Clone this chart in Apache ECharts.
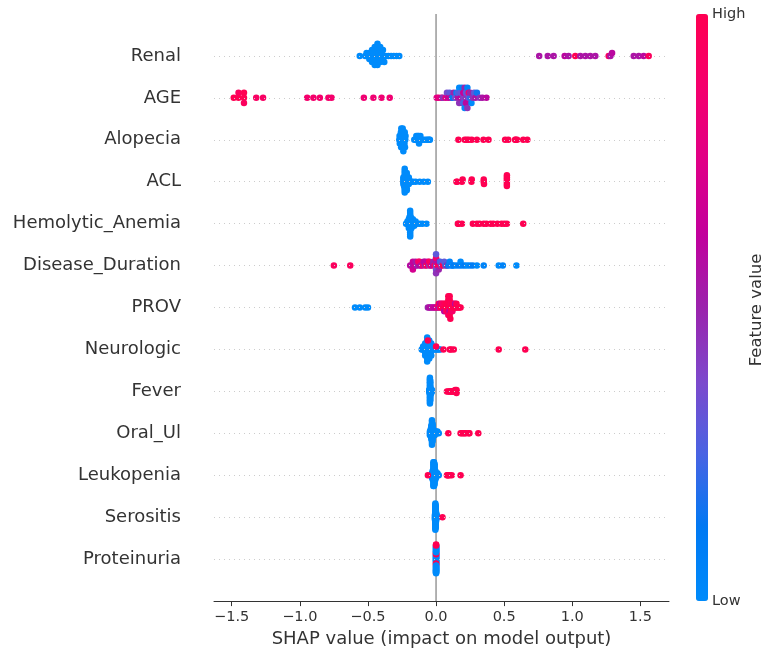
<!DOCTYPE html>
<html>
<head>
<meta charset="utf-8">
<script src="https://cdn.jsdelivr.net/npm/echarts@6/dist/echarts.min.js"></script>
<style>html,body{margin:0;padding:0;background:#fff}#c{width:763px;height:653px}</style>
</head>
<body>
<div id="c"></div>
<script>
// Feature names, top to bottom
const features = ['Renal','AGE','Alopecia','ACL','Hemolytic_Anemia','Disease_Duration','PROV','Neurologic','Fever','Oral_Ul','Leukopenia','Serositis','Proteinuria'];
const xTicks = [-1.5, -1, -0.5, 0, 0.5, 1, 1.5];

// Each point: [SHAP value, normalized feature value (0 = low, 1 = high)]
const renal = [
 [-0.56,0],[-0.52,0],[-0.51,0],[-0.50,0],[-0.49,0],[-0.49,0],[-0.48,0],[-0.48,0],[-0.47,0],[-0.47,0],[-0.47,0],[-0.46,0],[-0.46,0],[-0.46,0],
 [-0.45,0],[-0.45,0],[-0.45,0],[-0.45,0],[-0.44,0],[-0.44,0],[-0.44,0],[-0.44,0],[-0.43,0],[-0.43,0],[-0.43,0],[-0.43,0],[-0.42,0],[-0.42,0],[-0.42,0],
 [-0.41,0],[-0.41,0],[-0.41,0],[-0.40,0],[-0.40,0],[-0.39,0],[-0.39,0],[-0.38,0],[-0.37,0],[-0.35,0],[-0.33,0],[-0.31,0],[-0.29,0],[-0.27,0],
 [0.757,0.55],[0.82,0.55],[0.863,0.55],[0.944,0.6],[0.973,0.55],[1.022,1],[1.059,0.55],[1.096,0.55],[1.132,0.55],[1.169,0.55],[1.267,0.95],[1.28,0.55],[1.292,0.6],[1.451,0.55],[1.488,0.55],[1.524,0.6],[1.561,0.95]
];
const age = [
 [-1.485,1],[-1.45,1],[-1.45,0.95],[-1.41,1],[-1.41,1],[-1.41,0.95],[-1.32,0.92],[-1.27,0.92],[-0.946,0.88],[-0.90,0.88],[-0.853,0.88],[-0.79,0.88],[-0.767,0.88],[-0.53,0.85],[-0.46,0.85],[-0.40,0.85],[-0.34,0.85],
 [0.005,0.75],[0.02,0.8],[0.04,0.7],[0.05,0.45],[0.07,0.75],[0.08,0.35],[0.09,0.65],[0.10,0.3],[0.11,0.6],[0.12,0.1],[0.13,0.5],[0.14,0.35],[0.15,0.05],[0.16,0.55],[0.16,0.25],
 [0.17,0.45],[0.17,0],[0.18,0.6],[0.18,0.3],[0.19,0.45],[0.19,0.05],[0.20,0.4],[0.20,0.65],[0.20,0.25],[0.21,0.5],[0.21,0],[0.22,0.45],[0.22,0.3],[0.22,0.6],[0.23,0.05],
 [0.23,0.45],[0.24,0.35],[0.24,0.85],[0.25,0.2],[0.25,0.5],[0.26,0],[0.27,0.45],[0.28,0.3],[0.29,0.55],[0.30,0.15],[0.32,0.45],[0.34,0.55],[0.37,0.6]
];
const alopecia = [
 [-0.27,0],[-0.268,0],[-0.266,0],[-0.264,0],[-0.262,0],[-0.26,0],[-0.258,0],[-0.256,0],[-0.254,0],[-0.252,0],[-0.25,0],[-0.248,0],[-0.246,0],[-0.244,0],
 [-0.242,0],[-0.24,0],[-0.238,0],[-0.236,0],[-0.234,0],[-0.232,0],[-0.23,0],[-0.228,0],[-0.226,0],[-0.224,0],[-0.25,0],[-0.245,0],[-0.255,0],[-0.24,0],
 [-0.16,0],[-0.15,0],[-0.145,0],[-0.14,0],[-0.135,0],[-0.13,0],[-0.128,0],[-0.125,0],[-0.12,0],[-0.115,0],[-0.11,0],[-0.10,0],
 [-0.085,0],[-0.07,0],[-0.06,0],[-0.05,0],[-0.045,0],
 [0.164,1],[0.21,1],[0.225,1],[0.24,1],[0.262,1],[0.30,1],[0.348,1],[0.385,1],[0.507,1],[0.53,1],[0.58,1],[0.585,1],[0.595,1],[0.64,1],[0.67,1]
];
const acl = [
 [-0.24,0],[-0.24,0],[-0.24,0],[-0.24,0],[-0.235,0],[-0.235,0],[-0.235,0],[-0.235,0],[-0.235,0],
 [-0.23,0],[-0.23,0],[-0.23,0],[-0.23,0],[-0.23,0],[-0.23,0],[-0.23,0],
 [-0.225,0],[-0.225,0],[-0.225,0],[-0.225,0],[-0.225,0],[-0.225,0],
 [-0.22,0],[-0.22,0],[-0.22,0],[-0.22,0],[-0.22,0],[-0.215,0],[-0.215,0],[-0.215,0],[-0.215,0],
 [-0.21,0],[-0.21,0],[-0.21,0],[-0.205,0],[-0.205,0],[-0.20,0],[-0.20,0],
 [-0.19,0],[-0.18,0],[-0.17,0],[-0.15,0],[-0.12,0],[-0.09,0],[-0.06,0],
 [0.15,1],[0.155,1],[0.19,1],[0.195,1],[0.26,1],[0.262,1],[0.35,1],[0.35,1],[0.352,1],[0.52,1],[0.52,1],[0.52,1],[0.52,1],[0.52,1],[0.52,1]
];
const hemolytic = [
 [-0.22,0],[-0.21,0],[-0.21,0],[-0.20,0],[-0.20,0],[-0.20,0],[-0.20,0],[-0.20,0],
 [-0.195,0],[-0.195,0],[-0.195,0],[-0.195,0],[-0.195,0],[-0.195,0],
 [-0.19,0],[-0.19,0],[-0.19,0],[-0.19,0],[-0.19,0],[-0.19,0],[-0.19,0],
 [-0.185,0],[-0.185,0],[-0.185,0],[-0.185,0],[-0.185,0],[-0.185,0],
 [-0.18,0],[-0.18,0],[-0.18,0],[-0.18,0],[-0.18,0],[-0.17,0],[-0.17,0],[-0.17,0],[-0.17,0],
 [-0.16,0],[-0.16,0],[-0.16,0],[-0.15,0],[-0.15,0],[-0.14,0],[-0.12,0],[-0.10,0],[-0.07,0],
 [0.16,1],[0.165,1],[0.19,1],[0.27,1],[0.30,1],[0.32,1],[0.35,1],[0.37,1],[0.40,1],[0.42,1],[0.45,1],[0.48,1],[0.50,1],[0.52,1],[0.64,1]
];
const disease = [
 [-0.75,0.95],[-0.63,0.95],
 [-0.19,0.6],[-0.18,0.55],[-0.17,0.65],[-0.17,0.7],[-0.16,0.6],[-0.15,0.7],[-0.15,0.55],[-0.14,0.5],[-0.13,0.9],[-0.12,0.6],[-0.12,0.9],[-0.11,0.55],
 [-0.10,0.85],[-0.09,0.6],[-0.08,0.5],[-0.08,0.6],[-0.07,0.95],[-0.06,0.65],[-0.05,0.45],[-0.05,0.95],[-0.04,0.9],[-0.03,0.6],[-0.02,0.5],[-0.01,0.95],
 [0,0.4],[0,0.55],[0,0.35],[0,0.9],[0,0.45],[0,0.3],[0.01,0.95],[0.02,0.6],[0.02,0.5],[0.03,0.9],[0.03,0.25],[0.04,0.4],[0.05,1],[0.06,0.3],[0.07,0.2],[0.08,0.5],
 [0.09,0.1],[0.10,0.05],[0.11,0.15],[0.12,0],[0.13,0.1],[0.15,0.05],[0.17,0.1],[0.18,0],[0.19,0.05],[0.21,0.1],[0.23,0],[0.25,0.05],[0.27,0.1],[0.30,0],[0.35,0.05],[0.46,0],[0.49,0.05],[0.59,0]
];
const prov = [
 [-0.595,0],[-0.56,0],[-0.52,0],[-0.50,0],
 [-0.06,0.5],[-0.05,0.55],[-0.04,0.6],[-0.03,0.5],[-0.02,0.7],[-0.01,0.6],[0.0,0.65],[0.01,0.9],[0.02,0.55],[0.02,1],[0.03,0.9],[0.03,0.6],[0.04,1],[0.04,0.95],
 [0.05,1],[0.05,0.9],[0.06,1],[0.06,0.95],[0.06,0.6],[0.07,1],[0.07,1],[0.075,0.9],[0.08,1],[0.08,1],[0.08,0.95],[0.085,1],[0.085,1],[0.09,1],[0.09,1],[0.09,0.9],[0.09,1],
 [0.095,1],[0.095,1],[0.10,1],[0.10,1],[0.10,0.6],[0.10,1],[0.10,1],[0.10,1],[0.105,1],[0.11,1],[0.11,0.95],[0.11,1],[0.115,1],[0.12,1],[0.12,0.9],[0.125,1],
 [0.13,1],[0.13,1],[0.14,1],[0.14,0.6],[0.15,1],[0.15,1],[0.16,1],[0.17,1],[0.18,1]
];
const neuro = [
 [-0.105,0],[-0.10,0],[-0.095,0],[-0.09,0],[-0.088,0],[-0.085,0],[-0.085,0],[-0.08,0],[-0.08,0],[-0.08,0],
 [-0.075,0],[-0.075,0],[-0.075,0],[-0.075,0],[-0.07,0],[-0.07,0],[-0.07,0],[-0.07,0],[-0.07,0],
 [-0.065,0],[-0.065,0],[-0.065,0],[-0.065,0],[-0.06,0],[-0.06,0],[-0.06,0],[-0.06,0],[-0.06,0],
 [-0.055,0],[-0.055,0],[-0.055,0],[-0.055,0],[-0.05,0],[-0.05,0],[-0.05,0],[-0.045,0],[-0.045,0],[-0.045,0],
 [-0.04,0],[-0.04,0],[-0.04,0],[-0.035,0],[-0.035,0],[-0.03,0],[-0.03,0],[-0.02,0],[-0.02,0],[-0.01,0],[0.0,0],[0.01,0],[0.02,0],[0.03,0],
 [-0.06,1],[0.0,1],[0.054,1],[0.10,1],[0.11,1],[0.13,1],[0.46,1],[0.655,1]
];
const fever = [
 [-0.05,0],[-0.05,0],[-0.047,0],[-0.047,0],[-0.047,0],
 [-0.045,0],[-0.045,0],[-0.045,0],[-0.045,0],[-0.045,0],[-0.045,0],[-0.045,0],[-0.045,0],[-0.045,0],[-0.045,0],[-0.045,0],[-0.045,0],[-0.045,0],[-0.045,0],[-0.045,0],[-0.045,0],[-0.045,0],[-0.045,0],
 [-0.043,0],[-0.043,0],[-0.043,0],[-0.043,0],[-0.043,0],[-0.043,0],[-0.043,0],[-0.043,0],[-0.043,0],[-0.043,0],[-0.043,0],[-0.043,0],[-0.043,0],[-0.043,0],
 [-0.04,0],[-0.04,0],[-0.04,0],[-0.04,0],[-0.04,0],[-0.035,0],[-0.035,0],[-0.035,0],[-0.03,0],[-0.03,0],
 [0.08,1],[0.09,1],[0.10,1],[0.105,1],[0.11,1],[0.12,1],[0.125,1],[0.13,1],[0.14,1],[0.14,1],[0.15,1],[0.15,1],[0.15,1]
];
const oral = [
 [-0.045,0],[-0.045,0],[-0.045,0],[-0.04,0],[-0.04,0],[-0.04,0],[-0.04,0],
 [-0.035,0],[-0.035,0],[-0.035,0],[-0.035,0],[-0.035,0],[-0.035,0],[-0.035,0],[-0.035,0],
 [-0.03,0],[-0.03,0],[-0.03,0],[-0.03,0],[-0.03,0],[-0.03,0],[-0.03,0],[-0.03,0],[-0.03,0],[-0.03,0],[-0.03,0],[-0.03,0],[-0.03,0],[-0.03,0],
 [-0.025,0],[-0.025,0],[-0.025,0],[-0.025,0],[-0.025,0],[-0.025,0],[-0.025,0],[-0.025,0],[-0.025,0],[-0.025,0],
 [-0.02,0],[-0.02,0],[-0.02,0],[-0.02,0],[-0.01,0],[-0.01,0],[-0.01,0],[0.0,0],[0.0,0],[0.01,0],[0.01,0],[0.02,0],
 [0.09,1],[0.18,1],[0.19,1],[0.20,1],[0.21,1],[0.22,1],[0.24,1],[0.245,1],[0.31,1]
];
const leuko = [
 [-0.03,0],[-0.03,0],[-0.03,0],[-0.025,0],[-0.025,0],[-0.025,0],[-0.025,0],[-0.025,0],
 [-0.02,0],[-0.02,0],[-0.02,0],[-0.02,0],[-0.02,0],[-0.02,0],[-0.02,0],[-0.02,0],[-0.02,0],[-0.02,0],[-0.02,0],[-0.02,0],
 [-0.015,0],[-0.015,0],[-0.015,0],[-0.015,0],[-0.015,0],[-0.015,0],[-0.015,0],[-0.015,0],[-0.015,0],[-0.015,0],[-0.015,0],[-0.015,0],
 [-0.01,0],[-0.01,0],[-0.01,0],[-0.01,0],[-0.01,0],[-0.01,0],[-0.01,0],[-0.01,0],[-0.01,0],[-0.01,0],
 [-0.005,0],[-0.005,0],[-0.005,0],[-0.005,0],[-0.005,0],[0.0,0],[0.0,0],[0.0,0],[0.01,0],[0.01,0],[0.02,0],
 [-0.06,1],[0.08,1],[0.085,1],[0.09,1],[0.10,1],[0.115,1],[0.18,1]
];
const serositis = [
 [-0.008,0],[-0.008,0],[-0.008,0],[-0.008,0],[-0.008,0],
 [-0.005,0],[-0.005,0],[-0.005,0],[-0.005,0],[-0.005,0],[-0.005,0],[-0.005,0],[-0.005,0],[-0.005,0],[-0.005,0],[-0.005,0],
 [-0.005,0],[-0.005,0],[-0.005,0],[-0.005,0],[-0.005,0],[-0.005,0],[-0.005,0],[-0.005,0],[-0.005,0],[-0.005,0],[-0.005,0],
 [-0.003,0],[-0.003,0],[-0.003,0],[-0.003,0],[-0.003,0],[-0.003,0],[-0.003,0],[-0.003,0],[-0.003,0],
 [-0.003,0],[-0.003,0],[-0.003,0],[-0.003,0],[-0.003,0],[-0.003,0],[-0.003,0],[-0.003,0],[-0.003,0],
 [0.0,0],[0.0,0],[0.0,0],[0.0,0],[0.0,0],[0.0,0],[0.0,0],[0.0,0],[0.003,0],[0.003,0],[0.003,0],[0.003,0],[0.006,0],[0.006,0],
 [0.047,1]
];
const proteinuria = [
 [0,0],[0,0],[0,0],[0,0],[0,0],[0,0],[0,0],[0,0],[0,0],[0,0],[0,0],[0,0],[0,0],[0,0],[0,0],[0,0],[0,0],[0,0],
 [0,1],[0,1],[0,1],[0,1],[0,1],[0,1],[0,1],[0,1],
 [0,0],[0,0],[0,0],[0,0],[0,0],[0,0],[0,0],[0,0],[0,0],[0,0],[0,0],[0,0],[0,0],[0,0],[0,0],[0,0],[0,0],[0,0],[0,0],
 [0,0],[0,0],[0,0],[0,0],[0,0],[0,0],[0,0],[0,0],[0,0],[0,0],
 [0,1],[0,0],[0,1],[0,0],[0,1]
];

const rowsData = [renal, age, alopecia, acl, hemolytic, disease, prov, neuro, fever, oral, leuko, serositis, proteinuria];
const colorStops = ['#008bfb','#0079f3','#4963e3','#7d49cc','#9b23ad','#c2009c','#e00086','#f5006d','#ff0052'];

// shap-style beeswarm vertical layout
function beeswarm(vals) {
  const n = vals.length, rowHeight = 0.4, nbins = 100;
  const mn = Math.min(...vals), mx = Math.max(...vals);
  const quant = vals.map(v => Math.round(nbins * (v - mn) / (mx - mn + 1e-8)));
  const inds = vals.map((_, i) => i).sort((a, b) => quant[a] - quant[b] || a - b);
  const ys = new Array(n).fill(0);
  let layer = 0, last = -1;
  for (const i of inds) {
    if (quant[i] !== last) layer = 0;
    ys[i] = Math.ceil(layer / 2) * ((layer % 2) * 2 - 1);
    layer++; last = quant[i];
  }
  const m = Math.max(...ys.map(y => y + 1));
  return ys.map(y => y * 0.9 * (rowHeight / m));
}

const nRows = features.length;
const rowPos = features.map((_, i) => nRows - 1 - i);
const points = [];
rowsData.forEach((r, i) => {
  const offs = beeswarm(r.map(p => p[0]));
  r.forEach((p, j) => points.push([p[0], rowPos[i] + offs[j], p[1]]));
});

const FONT = 'DejaVu Sans';
const chart = echarts.init(document.getElementById('c'));
chart.setOption({
  backgroundColor: '#ffffff',
  animation: false,
  grid: { left: 214, right: 94, top: 14, bottom: 50 },
  xAxis: {
    type: 'value', min: -1.63, max: 1.71,
    axisLine: { show: true, onZero: false, lineStyle: { color: '#333333', width: 1 } },
    axisTick: { show: true, customValues: xTicks, length: 5, lineStyle: { color: '#333333' } },
    axisLabel: { customValues: xTicks, color: '#333333', fontSize: 14.5, fontFamily: FONT, margin: 9,
      formatter: v => v.toFixed(1).replace('-', '\u2212') },
    splitLine: { show: false },
    name: 'SHAP value (impact on model output)', nameLocation: 'middle', nameGap: 22,
    nameTextStyle: { color: '#333333', fontSize: 18, fontFamily: FONT }
  },
  yAxis: {
    type: 'value', min: -1, max: nRows,
    axisLine: { show: false, onZero: false }, axisTick: { show: false }, splitLine: { show: false },
    axisLabel: { customValues: rowPos, margin: 33, color: '#333333', fontSize: 18, fontFamily: FONT,
      formatter: v => features[nRows - 1 - Math.round(v)] }
  },
  visualMap: {
    type: 'continuous', min: 0, max: 1, dimension: 2, seriesIndex: 0,
    orient: 'vertical', left: 696, top: 14, itemWidth: 12, itemHeight: 587, padding: 0,
    calculable: false, hoverLink: false, realtime: false,
    inRange: { color: colorStops }
  },
  graphic: [
    { type: 'text', x: 712, y: 14, style: { text: 'High', font: '14.5px "DejaVu Sans"', fill: '#333333', verticalAlign: 'middle' } },
    { type: 'text', x: 712, y: 601, style: { text: 'Low', font: '14.5px "DejaVu Sans"', fill: '#333333', verticalAlign: 'middle' } },
    { type: 'text', x: 757, y: 310, rotation: Math.PI / 2, style: { text: 'Feature value', font: '16.5px "DejaVu Sans"', fill: '#333333', align: 'center', verticalAlign: 'middle' } }
  ],
  series: [
    { type: 'scatter', data: points, symbolSize: 6.5, itemStyle: { opacity: 1 }, z: 3 },
    { type: 'line', data: [[0, -1], [0, nRows]], symbol: 'none', silent: true, z: 1,
      lineStyle: { color: '#999999', width: 1.5 },
      markLine: { silent: true, symbol: ['none', 'none'], label: { show: false },
        lineStyle: { color: '#cccccc', type: [1, 4], width: 1 },
        data: rowPos.map(p => ({ yAxis: p })) } }
  ]
});
</script>
</body>
</html>
